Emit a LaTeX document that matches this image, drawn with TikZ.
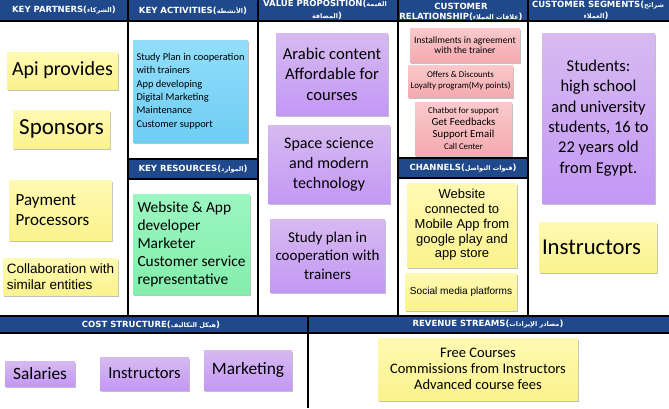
\documentclass[tikz,border=0pt]{standalone}
\usepackage{fontspec}
\usetikzlibrary{shadows}
\TeXXeTstate=1
\hyphenpenalty=10000
\exhyphenpenalty=10000
\newfontfamily\calibri{Carlito}
\newfontfamily\arialf{Liberation Sans}
\newfontfamily\hdrf{DejaVu Sans}
\newfontfamily\arabicfont[Script=Arabic]{DejaVu Sans}
\newcommand\arw[1]{{\arabicfont\fontsize{6.5}{7}\selectfont\beginR #1\endR}}
\newcommand\calf[2]{\calibri\fontsize{#1}{#2}\selectfont}
\newcommand\arf[2]{\arialf\fontsize{#1}{#2}\selectfont}

\definecolor{hdrblue}{RGB}{31,73,139}
\definecolor{yelT}{RGB}{255,250,178}
\definecolor{yelB}{RGB}{250,242,142}
\definecolor{bluT}{RGB}{145,222,250}
\definecolor{bluB}{RGB}{112,205,244}
\definecolor{grnT}{RGB}{155,246,192}
\definecolor{grnB}{RGB}{132,238,172}
\definecolor{purT}{RGB}{214,186,240}
\definecolor{purB}{RGB}{196,152,245}
\definecolor{pnkT}{RGB}{250,202,204}
\definecolor{pnkB}{RGB}{243,170,176}

\begin{document}
\begin{tikzpicture}[x=1pt,y=-1pt,
  gridline/.style={line width=1.1pt, black},
  hdr/.style={text=white, inner sep=0pt, font=\hdrf\bfseries\fontsize{8.5}{10}\selectfont},
  note/.style={draw=none, inner sep=2pt, align=center, text=black,
    drop shadow={shadow xshift=1.2pt, shadow yshift=-1.6pt, opacity=0.35, fill=black!70}},
  ynote/.style={note, top color=yelT, bottom color=yelB},
  bnote/.style={note, top color=bluT, bottom color=bluB},
  gnote/.style={note, top color=grnT, bottom color=grnB},
  vnote/.style={note, top color=purT, bottom color=purB},
  pnote/.style={note, top color=pnkT, bottom color=pnkB}]
\useasboundingbox (0,0) rectangle (669,408);
\fill[white] (0,0) rectangle (669,408);

% blue title bands
\fill[hdrblue] (0,0) rectangle (669,21);
\fill[hdrblue] (128,159) rectangle (258,179);
\fill[hdrblue] (398,158) rectangle (528,178);
\fill[hdrblue] (0,316) rectangle (669,333);

% cell borders
\draw[gridline] (0,21) -- (669,21);
\draw[gridline] (128,0) -- (128,316);
\draw[gridline] (258,0) -- (258,316);
\draw[gridline] (398,0) -- (398,316);
\draw[gridline] (528,0) -- (528,316);
\draw[gridline] (128,159) -- (258,159) (128,179) -- (258,179);
\draw[gridline] (398,158) -- (528,158) (398,178) -- (528,178);
\draw[gridline] (0,316) -- (669,316) (0,333) -- (669,333);
\draw[gridline] (308,316) -- (308,408);

% block titles
\node[hdr] (hkp) at (64,10.5) {KEY PARTNERS(\arw{الشركاء})};
\node[hdr] (hka) at (193,10.5) {KEY ACTIVITIES(\arw{الأنشطة})};
\node[hdr] (hvp1) at (325,3.5) {VALUE PROPOSITION(\arw{القيمة}};
\node[hdr] (hvp2) at (327,15.5) {\arw{المضافة})};
\node[hdr] (hcr1) at (461,6) {CUSTOMER};
\node[hdr] (hcr2) at (461,17) {RELATIONSHIP(\arw{علاقات العملاء})};
\node[hdr] (hcs1) at (598,5) {CUSTOMER SEGMENTS(\arw{شرائح}};
\node[hdr] (hcs2) at (596,16) {\arw{العملاء})};
\node[hdr] (hkr) at (193,169) {KEY RESOURCES(\arw{الموارد})};
\node[hdr] (hch) at (463,168) {CHANNELS(\arw{قنوات التواصل})};
\node[hdr] (hcost) at (151,324.5) {COST STRUCTURE(\arw{هيكل التكاليف})};
\node[hdr] (hrev) at (488,324.5) {REVENUE STREAMS(\arw{مصادر الإيرادات})};

% key partners
\node[ynote, minimum width=111pt, minimum height=37pt, font=\calf{20}{24}] (api) at (62.5,70.5) {Api provides};
\node[ynote, minimum width=97pt, minimum height=38pt, font=\calf{23}{27}] (spons) at (61.5,129) {Sponsors};
\node[ynote, minimum width=103pt, minimum height=60pt, inner xsep=3pt, align=left, font=\calf{17}{20}] (pay) at (60.5,210) {Payment\\Processors\hspace*{16pt}};
\node[ynote, minimum width=115pt, minimum height=37pt, align=left, font=\arf{13.5}{16}] (collab) at (60.5,276.5) {Collaboration with\\similar entities};

% key activities and resources
\node[bnote, minimum width=115pt, minimum height=102pt, align=left, font=\calf{10.4}{13.3}] (act) at (190.5,91) {Study Plan in cooperation\\with trainers\\App developing\\Digital Marketing\\Maintenance\\Customer support};
\node[gnote, minimum width=117pt, minimum height=100pt, align=left, font=\calf{15.4}{18}] (res) at (191.5,244) {Website \& App\\developer\\Marketer\\Customer service\\representative};

% value proposition
\node[vnote, minimum width=112pt, minimum height=82pt, font=\calf{16.6}{20.5}] (vp1) at (332,74) {Arabic content\\Affordable for\\courses};
\node[vnote, minimum width=122pt, minimum height=78pt, font=\calf{16}{20}] (vp2) at (329,164) {Space science\\and modern\\technology};
\node[vnote, minimum width=115pt, minimum height=73pt, font=\calf{15}{18.5}] (vp3) at (327.5,255.5) {Study plan in\\cooperation with\\trainers};

% customer relationship
\node[pnote, minimum width=110pt, minimum height=34pt, font=\calf{9.6}{10.5}] (cr1) at (465,45) {Installments in agreement\\with the trainer};
\node[pnote, minimum width=105pt, minimum height=32pt, font=\calf{8.9}{11}] (cr2) at (460.5,81) {Offers \& Discounts\\Loyalty program(My points)};
\node[pnote, minimum width=97pt, minimum height=53pt, font=\calf{8.8}{11.7}] (cr3) at (463.5,128.5) {Chatbot for support\\{\calf{10.8}{11.7}Get Feedbacks}\\{\calf{10.8}{11.7}Support Email}\\Call Center};

% channels
\node[ynote, minimum width=110pt, minimum height=84pt, font=\arf{13}{14.7}] (ch1) at (462,225) {Website\\connected to\\Mobile App from\\google play and\\app store};
\node[ynote, minimum width=112pt, minimum height=37pt, font=\arf{10.1}{12}] (ch2) at (461,291.5) {Social media platforms};

% customer segments
\node[vnote, minimum width=113pt, minimum height=170pt, font=\calf{16.5}{20.3}] (cs1) at (598.5,118) {Students:\\high school\\and university\\students, 16 to\\22 years old\\from Egypt.};
\node[ynote, minimum height=50pt, text width=112pt, inner xsep=3pt, align=left, font=\calf{22.7}{26}] (cs2) at (598,247) {Instructors};

% cost structure
\node[vnote, minimum width=70pt, minimum height=25pt, font=\calf{17.3}{20}] (sal) at (40,373.5) {Salaries};
\node[vnote, minimum width=89pt, minimum height=33pt, font=\calf{16.6}{20}] (ins) at (144.5,373.5) {Instructors};
\node[vnote, minimum width=88pt, minimum height=40pt, font=\calf{17.4}{20}] (mkt) at (248,370) {Marketing};

% revenue streams
\node[ynote, minimum width=200pt, minimum height=62pt, font=\calf{14.5}{16}] (rev) at (478,369) {Free Courses\\Commissions from Instructors\\Advanced course fees};
\end{tikzpicture}
\end{document}
